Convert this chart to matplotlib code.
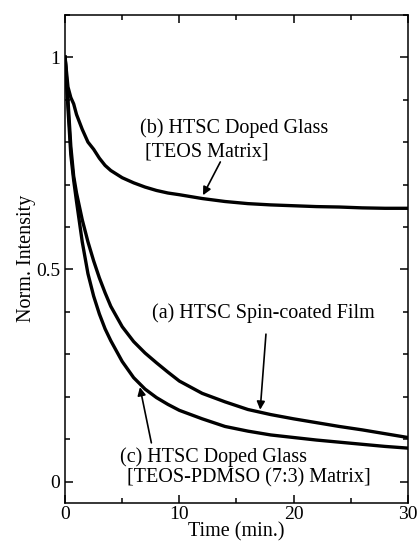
import numpy as np
import matplotlib
matplotlib.use("Agg")
import matplotlib.pyplot as plt
from matplotlib.ticker import MultipleLocator

plt.rcParams['font.family'] = ['Liberation Serif', 'DejaVu Serif']

time = [0, 0.25, 0.5, 0.75, 1, 1.5, 2, 2.5, 3, 3.5, 4, 5, 6, 7, 8, 9, 10,
        12, 14, 16, 18, 20, 22, 24, 26, 28, 30]

# (a) spin-coated film
film = [1.0, 0.9, 0.79, 0.72, 0.68, 0.617, 0.565, 0.52, 0.48, 0.445, 0.413,
        0.365, 0.33, 0.303, 0.28, 0.258, 0.237, 0.208, 0.188, 0.17, 0.158,
        0.148, 0.139, 0.13, 0.122, 0.113, 0.104]

# (b) doped glass, TEOS matrix
teos = [1.0, 0.93, 0.905, 0.89, 0.865, 0.83, 0.80, 0.783, 0.762, 0.745, 0.733,
        0.716, 0.704, 0.694, 0.686, 0.68, 0.676, 0.667, 0.66, 0.655, 0.652,
        0.65, 0.648, 0.647, 0.645, 0.644, 0.644]

# (c) doped glass, TEOS-PDMSO (7:3) matrix
pdmso = [1.0, 0.88, 0.77, 0.71, 0.66, 0.565, 0.49, 0.437, 0.395, 0.36, 0.332,
         0.283, 0.245, 0.218, 0.198, 0.182, 0.168, 0.148, 0.13, 0.119, 0.11,
         0.104, 0.098, 0.093, 0.088, 0.083, 0.079]

fig = plt.figure(figsize=(4.2, 5.46), dpi=100)
ax = fig.add_axes([0.155, 0.079, 0.816, 0.894])

for y in [film, teos, pdmso]:
    ax.plot(time, y, color="black", lw=2.4, solid_joinstyle="round")

ax.set_xlim(0, 30)
ax.set_ylim(-0.05, 1.1)
ax.set_xticks([0, 10, 20, 30])
ax.xaxis.set_minor_locator(MultipleLocator(5))
ax.set_yticks([0, 0.5, 1])
ax.set_yticklabels(["0", "0.5", "1"])
ax.yaxis.set_minor_locator(MultipleLocator(0.1))
ax.tick_params(which="both", direction="in", top=True, right=True, width=1.1, labelsize=14)
ax.tick_params(axis="x", pad=2)
ax.tick_params(which="major", length=6)
ax.tick_params(which="minor", length=3.6)
for s in ax.spines.values():
    s.set_linewidth(1.1)

ax.set_xlabel("Time (min.)", fontsize=14.5, labelpad=0)
ax.set_ylabel("Norm. Intensity", fontsize=14.5, labelpad=0)

arrow = dict(arrowstyle="-|>", color="black", lw=1.2, mutation_scale=12)
ax.annotate("", xy=(11.96, 0.669), xytext=(13.7, 0.759), arrowprops=arrow)
ax.annotate("", xy=(17.06, 0.163), xytext=(17.6, 0.354), arrowprops=arrow)
ax.annotate("", xy=(6.5, 0.229), xytext=(7.6, 0.085), arrowprops=arrow)

fs = 14.5
ax.text(6.55, 0.832, "(b) HTSC Doped Glass", fontsize=fs, va="center")
ax.text(7.0, 0.776, "[TEOS Matrix]", fontsize=fs, va="center")
ax.text(7.6, 0.396, "(a) HTSC Spin-coated Film", fontsize=fs, va="center")
ax.text(4.8, 0.057, "(c) HTSC Doped Glass", fontsize=fs, va="center")
ax.text(5.4, 0.008, "[TEOS-PDMSO (7:3) Matrix]", fontsize=fs, va="center")

fig.savefig("out.png", dpi=100)
